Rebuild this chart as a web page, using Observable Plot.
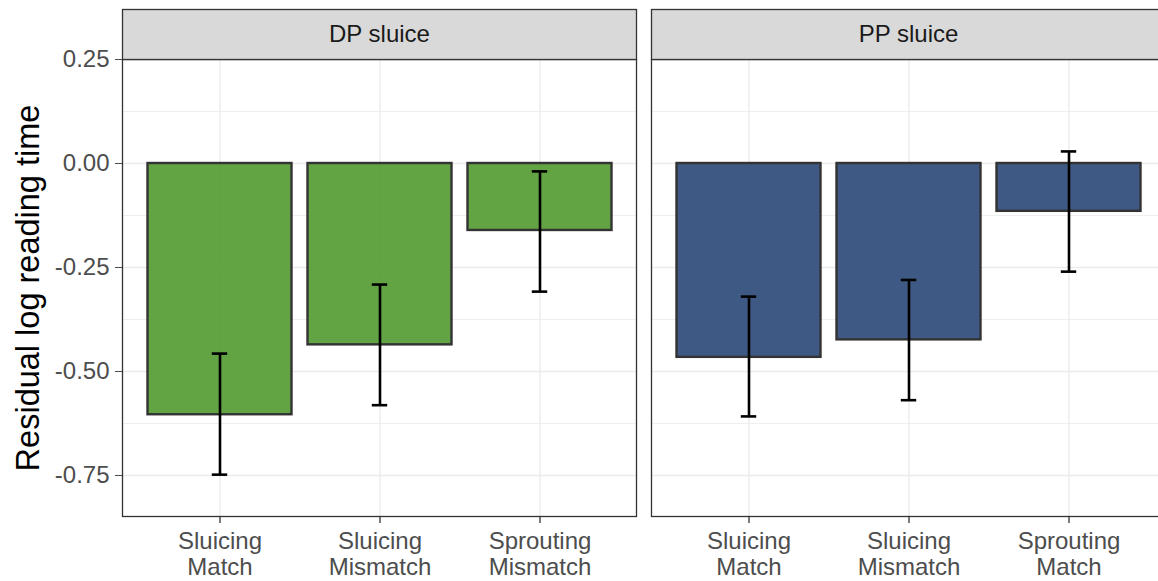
<!DOCTYPE html>
<html>
<head>
<meta charset="utf-8">
<script src="https://cdn.jsdelivr.net/npm/d3@7"></script>
<script src="https://cdn.jsdelivr.net/npm/@observablehq/plot@0.6"></script>
<style>
  html, body { margin: 0; padding: 0; background: #fff; overflow: hidden; }
  #chart { width: 1158px; height: 581px; overflow: hidden; }
  #chart svg { max-width: none !important; }
</style>
</head>
<body>
<div id="chart"></div>
<script>
const panels = ["DP sluice", "PP sluice"];
const panelColors = ["#51992F", "#294877"];
const positions = ["1", "2", "3"];
const dpLabels = ["Sluicing\nMatch", "Sluicing\nMismatch", "Sprouting\nMismatch"];
const ppLabels = ["Sluicing\nMatch", "Sluicing\nMismatch", "Sprouting\nMatch"];
const dpMeans = [-0.604, -0.436, -0.161];
const dpLower = [-0.748, -0.581, -0.308];
const dpUpper = [-0.457, -0.291, -0.019];
const ppMeans = [-0.466, -0.424, -0.115];
const ppLower = [-0.608, -0.569, -0.260];
const ppUpper = [-0.320, -0.280, 0.029];
const yTicks = [-0.75, -0.5, -0.25, 0, 0.25];
const yMinorTicks = [-0.625, -0.375, -0.125, 0.125];
const yTitle = "Residual log reading time";

const rows = [];
positions.forEach((p, i) => {
  rows.push({panel: panels[0], key: p, label: dpLabels[i], mean: dpMeans[i], lo: dpLower[i], hi: dpUpper[i]});
});
positions.forEach((p, i) => {
  rows.push({panel: panels[1], key: p, label: ppLabels[i], mean: ppMeans[i], lo: ppLower[i], hi: ppUpper[i]});
});

const font = "'Liberation Sans', Arial, Helvetica, sans-serif";
const panelHeight = 457;

const plot = Plot.plot({
  width: 1166,
  height: 581,
  marginTop: 59,
  marginBottom: 65,
  marginLeft: 121.5,
  marginRight: 1.5,
  style: {fontFamily: font, background: "#fff", overflow: "visible"},
  fx: {domain: panels, paddingInner: 15 / 529, paddingOuter: 0, axis: null, label: null},
  x: {type: "band", domain: positions, paddingInner: 0.1, paddingOuter: 0.15, align: 0.5, label: null},
  y: {domain: [-0.8486, 0.25], label: null},
  color: {domain: panels, range: panelColors},
  marks: [
    Plot.gridY(yMinorTicks, {stroke: "#ebebeb", strokeOpacity: 1, strokeWidth: 0.8}),
    Plot.gridY(yTicks, {stroke: "#ebebeb", strokeOpacity: 1, strokeWidth: 1.4}),
    Plot.gridX(positions, {stroke: "#ebebeb", strokeOpacity: 1, strokeWidth: 1.4}),
    Plot.barY(rows, {fx: "panel", x: "key", y: "mean", fill: "panel", fillOpacity: 0.9, stroke: "#333333", strokeWidth: 2.4}),
    Plot.ruleX(rows, {fx: "panel", x: "key", y1: "lo", y2: "hi", stroke: "#000", strokeWidth: 2.6}),
    Plot.tickY(rows, {fx: "panel", x: "key", y: "lo", stroke: "#000", strokeWidth: 2.6, insetLeft: 64.3, insetRight: 64.3}),
    Plot.tickY(rows, {fx: "panel", x: "key", y: "hi", stroke: "#000", strokeWidth: 2.6, insetLeft: 64.3, insetRight: 64.3}),
    Plot.frame({stroke: "#333333", strokeWidth: 1.3}),
    Plot.frame({fill: "#d9d9d9", stroke: "#333333", strokeWidth: 1.3, insetTop: -50, insetBottom: panelHeight}),
    Plot.text(panels, {fx: d => d, text: d => d, frameAnchor: "top", lineAnchor: "middle", dy: -25, fontSize: 24, fill: "#1a1a1a"}),
    Plot.axisY({ticks: yTicks, tickFormat: d => d.toFixed(2), tickSize: 7, tickPadding: 6, fontSize: 24, color: "#4d4d4d", label: null}),
    Plot.axisX({tickSize: 7, tickFormat: () => "", label: null, stroke: "#333333", strokeWidth: 1.3}),
    Plot.text(rows, {fx: "panel", x: "key", text: "label", frameAnchor: "bottom", lineAnchor: "top", dy: 13, lineHeight: 1.12, fontSize: 24, fill: "#4d4d4d"}),
    Plot.text([yTitle], {fx: () => panels[0], text: d => d, frameAnchor: "left", textAnchor: "middle", lineAnchor: "middle", dx: -94, rotate: -90, fontSize: 32.5, fill: "#000"})
  ]
});
plot.style.maxWidth = "none";
document.getElementById("chart").appendChild(plot);
</script>
</body>
</html>
